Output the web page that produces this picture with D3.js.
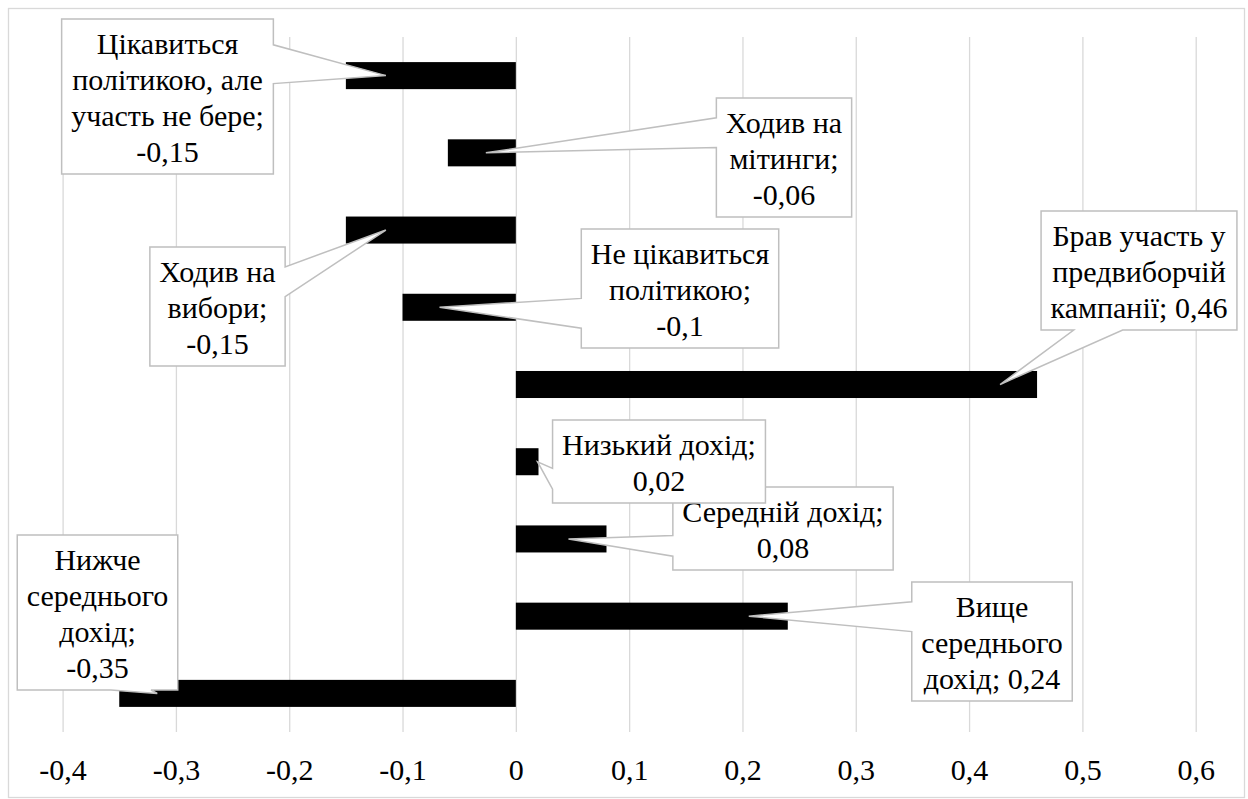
<!DOCTYPE html>
<html>
<head>
<meta charset="utf-8">
<script src="https://cdn.jsdelivr.net/npm/d3@7"></script>
<style>
  body { margin: 0; background: #fff; }
</style>
</head>
<body>
<svg width="1248" height="799"></svg>
<script>
// categories top to bottom
const categories = [
  'Цікавиться політикою, але участь не бере',
  'Ходив на мітинги',
  'Ходив на вибори',
  'Не цікавиться політикою',
  'Брав участь у предвиборчій кампанії',
  'Низький дохід',
  'Середній дохід',
  'Вище середнього дохід',
  'Нижче середнього дохід'
];
const values = [-0.15, -0.06, -0.15, -0.1, 0.46, 0.02, 0.08, 0.24, -0.35];
const tickValues = [-0.4, -0.3, -0.2, -0.1, 0, 0.1, 0.2, 0.3, 0.4, 0.5, 0.6];

// words per line in each data label (as wrapped in the picture)
const labelWrap = [[1, 2, 3, 1], [2, 1, 1], [2, 1, 1], [2, 1, 1], [3, 1, 2], [2, 1], [2, 1], [1, 1, 2], [1, 1, 1, 1]];

// label box placement: box centre x, box top, how far the leader tip sits inside the bar
const labelLayout = [
  {cx: 167.5, top: 19, tipIn: 40},
  {cx: 784, top: 98, tipIn: 38},
  {cx: 217.5, top: 247, tipIn: 40},
  {cx: 680, top: 229, tipIn: 37},
  {cx: 1139, top: 211, tipIn: 37},
  {cx: 659, top: 420, tipIn: 1},
  {cx: 783, top: 487, tipIn: 38},
  {cx: 992, top: 582, tipIn: 39},
  {cx: 97.5, top: 535, tipIn: 38}
];

const svg = d3.select('svg');
const fmt = v => String(v).replace('.', ',');

svg.append('rect')
  .attr('x', 8.5).attr('y', 8.5)
  .attr('width', 1236).attr('height', 789)
  .attr('fill', '#fff').attr('stroke', '#d9d9d9').attr('stroke-width', 1.3);

const plot = {top: 37, bottom: 732};

const x = d3.scaleLinear().domain([-0.4, 0.6]).range([62.6, 1195.7]);
const y = d3.scaleBand().domain(categories)
  .range([plot.top, plot.bottom])
  .paddingInner(0.65).paddingOuter(0.325);

// gridlines + tick labels (font left at the browser default, which is the serif face here)
const axis = svg.append('g')
  .attr('transform', `translate(0,${plot.bottom})`)
  .call(d3.axisBottom(x)
    .tickValues(tickValues)
    .tickFormat(fmt)
    .tickSizeInner(-(plot.bottom - plot.top))
    .tickSizeOuter(0)
    .tickPadding(27));
axis.attr('font-family', null).attr('font-size', 30);
axis.select('.domain').remove();
axis.selectAll('line').attr('stroke', '#d9d9d9').attr('stroke-width', 1.3);
axis.selectAll('text').attr('fill', '#000');

// bars
svg.append('g')
  .selectAll('rect')
  .data(values)
  .join('rect')
  .attr('x', d => x(Math.min(0, d)))
  .attr('y', (d, i) => y(categories[i]))
  .attr('width', d => Math.abs(x(d) - x(0)))
  .attr('height', y.bandwidth())
  .attr('fill', '#000');

// rectangle with a wedge pointing at (tx, ty), like the office callout shape
function calloutPath(x0, y0, w, h, tx, ty) {
  const x1 = x0 + w, y1 = y0 + h;
  const cx = x0 + w / 2, cy = y0 + h / 2;
  const dx = tx - cx, dy = ty - cy;
  const inside = tx >= x0 && tx <= x1 && ty >= y0 && ty <= y1;
  let side = null;
  if (!inside) {
    if (Math.abs(dx) * h > Math.abs(dy) * w) side = dx < 0 ? 'left' : 'right';
    else side = dy < 0 ? 'top' : 'bottom';
  }
  const a = (side === 'left' || side === 'right') ? (dy < 0 ? 2 / 12 : 7 / 12) : (dx < 0 ? 2 / 12 : 7 / 12);
  const b = a + 3 / 12;
  let p = `M${x0},${y0}`;
  if (side === 'top') p += `L${x0 + w * a},${y0}L${tx},${ty}L${x0 + w * b},${y0}`;
  p += `L${x1},${y0}`;
  if (side === 'right') p += `L${x1},${y0 + h * a}L${tx},${ty}L${x1},${y0 + h * b}`;
  p += `L${x1},${y1}`;
  if (side === 'bottom') p += `L${x0 + w * b},${y1}L${tx},${ty}L${x0 + w * a},${y1}`;
  p += `L${x0},${y1}`;
  if (side === 'left') p += `L${x0},${y0 + h * b}L${tx},${ty}L${x0},${y0 + h * a}`;
  return p + 'Z';
}

// data labels, drawn bottom-up so the upper ones sit on top
const labels = svg.append('g').attr('font-size', 30);
d3.range(categories.length).reverse().forEach(i => {
  const v = values[i];
  const lay = labelLayout[i];
  const words = (categories[i] + '; ' + fmt(v)).split(' ');
  const lines = [];
  let k = 0;
  labelWrap[i].forEach(n => { lines.push(words.slice(k, k + n).join(' ')); k += n; });

  const g = labels.append('g');
  const texts = lines.map((ln, j) => g.append('text')
    .attr('x', lay.cx)
    .attr('y', lay.top + 35 + 36 * j)
    .attr('text-anchor', 'middle')
    .attr('fill', '#000')
    .text(ln));
  const maxW = d3.max(texts, t => t.node().getComputedTextLength());
  const w = maxW + 19;
  const h = 36 * lines.length + 11;
  const tx = x(v) - Math.sign(v) * lay.tipIn;
  const ty = y(categories[i]) + y.bandwidth() / 2;

  g.insert('path', 'text')
    .attr('d', calloutPath(lay.cx - w / 2, lay.top, w, h, tx, ty))
    .attr('fill', '#fff')
    .attr('stroke', '#bfbfbf')
    .attr('stroke-width', 1.5);
});
</script>
</body>
</html>
